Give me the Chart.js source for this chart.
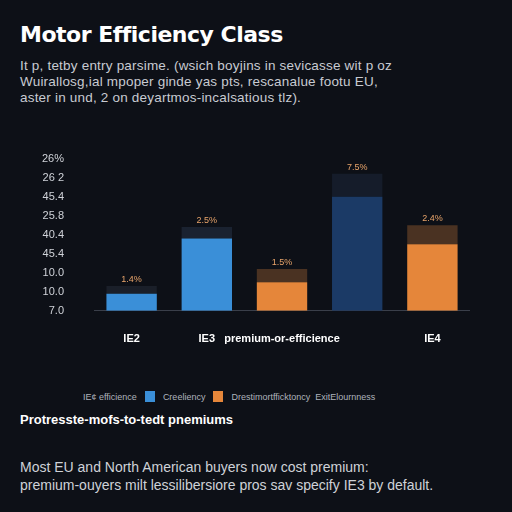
<!DOCTYPE html>
<html lang="en">
<head>
<meta charset="UTF-8">
<script src="https://cdn.jsdelivr.net/npm/chart.js"></script>
<style>
  body { margin:0; width:512px; height:512px; background:#0d1017; font-family:"Liberation Sans", Arial, sans-serif; color:#fff; overflow:hidden; position:relative; }
  h1 { position:absolute; left:20px; top:22px; margin:0; font-size:22px; font-weight:bold; font-family:"DejaVu Sans", sans-serif; letter-spacing:-0.5px; }
  .sub { position:absolute; left:20px; top:58px; font-size:13.5px; line-height:16px; color:#c8cbd2; letter-spacing:0.2px; }
  #wrap { position:absolute; left:0; top:130px; width:470px; height:230px; }
  .legend { position:absolute; top:391px; left:83px; font-size:9px; color:#aeb3bb; display:flex; align-items:center; gap:8px; }
  .sw { display:inline-block; width:10px; height:11px; }
  h2 { position:absolute; left:20px; top:412px; margin:0; font-size:13px; font-weight:bold; }
  .foot { position:absolute; left:20px; top:458px; font-size:14px; line-height:18px; color:#cfd2d8; }
</style>
</head>
<body>
<h1>Motor Efficiency Class</h1>
<div class="sub">It p, tetby entry parsime. (wsich boyjins in sevicasse wit p oz<br>Wuirallosg,ial mpoper ginde yas pts, rescanalue footu EU,<br>aster in und, 2 on deyartmos-incalsatious tlz).</div>
<div id="wrap"><canvas id="c" width="470" height="230"></canvas></div>
<div class="legend">
  <span>IE¢ efficience</span><span class="sw" style="background:#3a8fd8"></span><span>Creeliency</span>
  <span class="sw" style="background:#e5863a"></span><span>Drestimortfficktoncy&nbsp; ExitElournness</span>
</div>
<h2>Protresste-mofs-to-tedt pnemiums</h2>
<div class="foot">Most EU and North American buyers now cost premium:<br>premium-ouyers milt lessilibersiore pros sav specify IE3 by default.</div>
<script>
// data
const labels = ['IE2', 'IE3', 'premium-or-efficience', '', 'IE4'];
const baseValues = [0.9, 3.8, 1.5, 6.0, 3.5];
const topValues = [0.4, 0.6, 0.7, 1.2, 1.0];
const barLabels = ['1.4%', '2.5%', '1.5%', '7.5%', '2.4%'];
const tickLabels = ['7.0', '10.0', '10.0', '45.4', '40.4', '25.8', '45.4', '26 2', '26%'];
const baseColors = ['#3a8fd8', '#3a8fd8', '#e5863a', '#1b3a66', '#e5863a'];
const topColors = ['#1a1f29', '#1a2230', '#4a3222', '#151c2a', '#4a3222'];

const labelPlugin = {
  id: 'lbl',
  afterDatasetsDraw(chart) {
    const ctx = chart.ctx, meta = chart.getDatasetMeta(1);
    ctx.save();
    ctx.font = '9px "Liberation Sans"';
    ctx.fillStyle = '#e8a46a';
    ctx.textAlign = 'center';
    meta.data.forEach((b, i) => ctx.fillText(barLabels[i], b.x, b.y - 4));
    ctx.restore();
  }
};

new Chart(document.getElementById('c'), {
  type: 'bar',
  data: {
    labels: labels,
    datasets: [
      { data: baseValues, backgroundColor: baseColors, barPercentage: 0.67, categoryPercentage: 1 },
      { data: topValues, backgroundColor: topColors, barPercentage: 0.67, categoryPercentage: 1 }
    ]
  },
  options: {
    animation: false, responsive: false, maintainAspectRatio: false,
    layout: { padding: { left: 20, top: 6, right: 0 } },
    plugins: { legend: { display: false }, tooltip: { enabled: false } },
    scales: {
      x: {
        stacked: true,
        grid: { display: false },
        border: { color: '#3a3f4a' },
        ticks: { autoSkip: false, maxRotation: 0, color: '#fff', font: { size: 11, weight: 'bold' }, padding: 14 }
      },
      y: {
        stacked: true, min: 0, max: 8,
        grid: { display: false }, border: { display: false },
        ticks: { autoSkip: false, stepSize: 1, color: '#d0d3d9', font: { size: 11 }, padding: 22,
          callback: (v) => tickLabels[v] }
      }
    }
  },
  plugins: [labelPlugin]
});
</script>
</body>
</html>
